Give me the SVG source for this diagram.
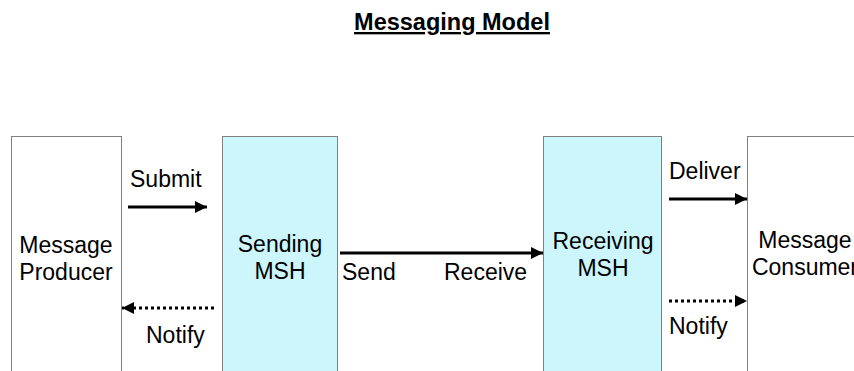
<svg xmlns="http://www.w3.org/2000/svg" width="854" height="371" viewBox="0 0 854 371">
  <style>
    text { font-family: "Liberation Sans", Arial, sans-serif; font-size: 23px; fill: #000; }
    .title { font-size: 23.5px; font-weight: bold; text-decoration: underline; }
    .box { stroke: #808080; stroke-width: 1; }
    .party { fill: #ffffff; }
    .msh { fill: #ccf6fb; }
    .flow { stroke: #000; stroke-width: 3; fill: none; }
    .dotted { stroke-dasharray: 3 3; }
  </style>
  <defs>
    <marker id="head" markerWidth="4" markerHeight="4" refX="4" refY="2" orient="auto" markerUnits="strokeWidth">
      <path d="M0,0 L4,2 L0,4 Z" fill="#000"/>
    </marker>
  </defs>
  <rect width="854" height="371" fill="#ffffff"/>

  <text class="title" x="452" y="30" text-anchor="middle">Messaging Model</text>

  <g id="producer">
    <rect class="box party" x="11.5" y="136.5" width="110" height="250"/>
    <text x="66" y="253" text-anchor="middle">Message</text>
    <text x="66" y="280" text-anchor="middle">Producer</text>
  </g>

  <g id="sending-msh">
    <rect class="box msh" x="222.5" y="136.5" width="115" height="250"/>
    <text x="280" y="252" text-anchor="middle">Sending</text>
    <text x="280" y="279" text-anchor="middle">MSH</text>
  </g>

  <g id="receiving-msh">
    <rect class="box msh" x="543.5" y="136.5" width="118" height="250"/>
    <text x="603" y="249" text-anchor="middle">Receiving</text>
    <text x="603" y="276" text-anchor="middle">MSH</text>
  </g>

  <g id="consumer">
    <rect class="box party" x="747.5" y="136.5" width="120" height="250"/>
    <text x="805" y="248" text-anchor="middle">Message</text>
    <text x="805" y="275" text-anchor="middle">Consumer</text>
  </g>

  <g id="connectors">
    <line class="flow" x1="128" y1="207" x2="207" y2="207" marker-end="url(#head)"/>
    <line class="flow dotted" x1="214" y1="308" x2="122" y2="308" marker-end="url(#head)"/>
    <line class="flow" x1="340" y1="253" x2="543" y2="253" marker-end="url(#head)"/>
    <line class="flow" x1="669" y1="199" x2="747" y2="199" marker-end="url(#head)"/>
    <line class="flow dotted" x1="669" y1="301" x2="747" y2="301" marker-end="url(#head)"/>
  </g>

  <g id="labels">
    <text x="130" y="187">Submit</text>
    <text x="146" y="343">Notify</text>
    <text x="342" y="280">Send</text>
    <text x="444" y="280">Receive</text>
    <text x="669" y="179">Deliver</text>
    <text x="669" y="334">Notify</text>
  </g>
</svg>
